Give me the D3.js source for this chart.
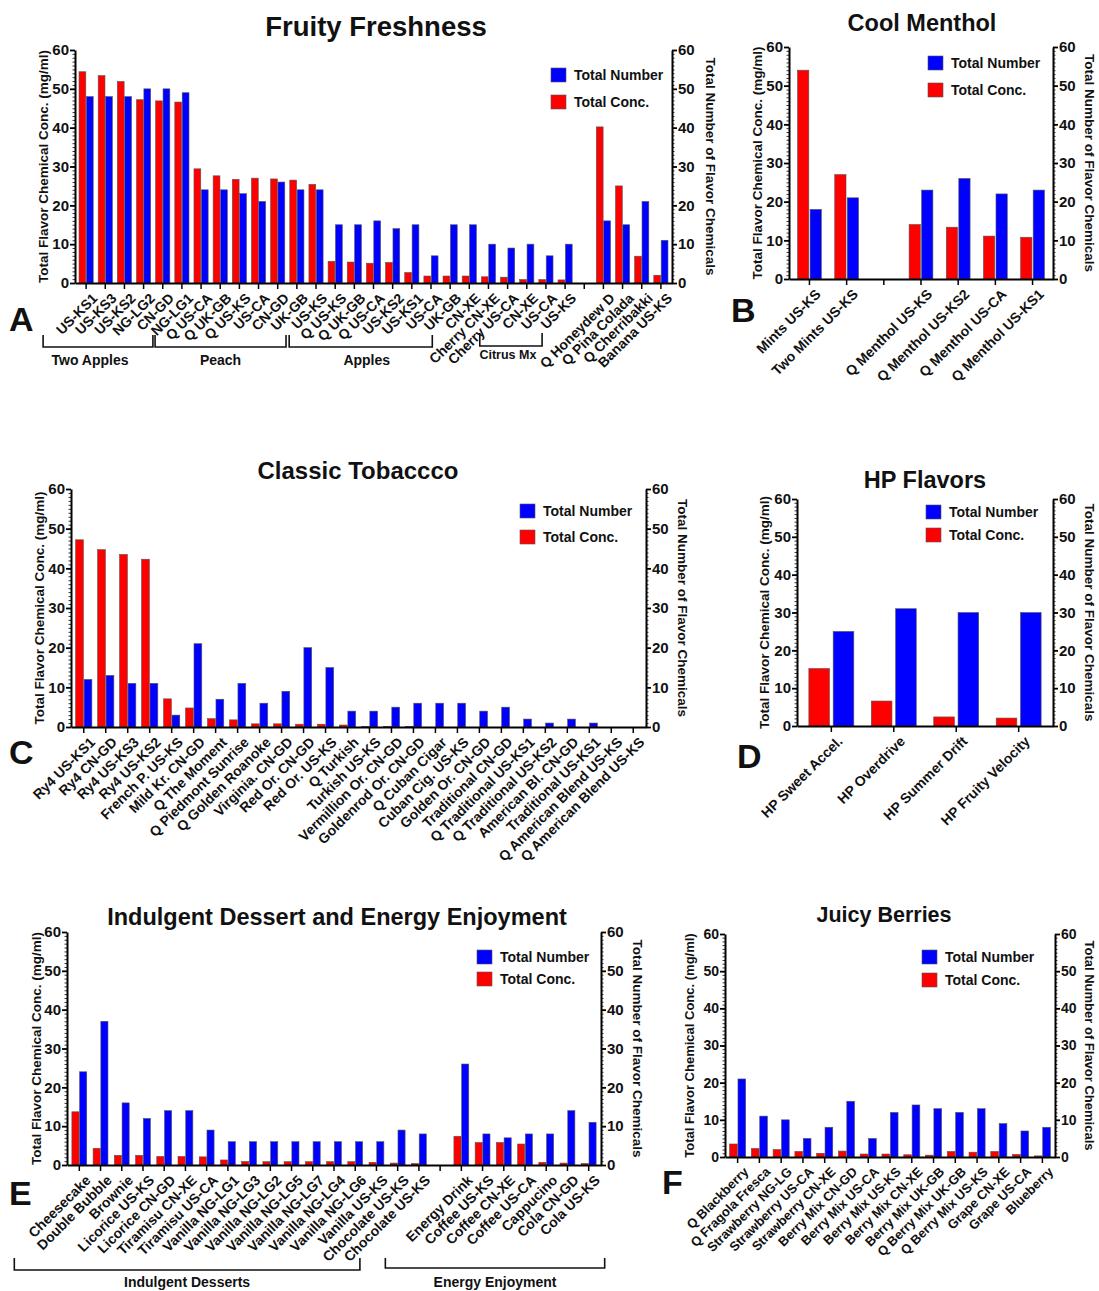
<!DOCTYPE html>
<html>
<head>
<meta charset="utf-8">
<script src="https://cdn.jsdelivr.net/npm/d3@7"></script>
<style>
  body { margin: 0; background: #fff; }
  svg text { font-family: "Liberation Sans", Arial, sans-serif; font-weight: bold; fill: #111; }
</style>
</head>
<body>
<svg id="chart" width="1099" height="1291"></svg>
<script>
// ---- data ----
// A: Fruity Freshness ('' = empty slot)
const fruityCats = ['US-KS1', 'US-KS3', 'US-KS2', 'NG-LG2', 'CN-GD', 'NG-LG1',
    'Q US-CA', 'Q UK-GB', 'Q US-KS', 'US-CA', 'CN-GD', 'UK-GB', 'US-KS',
    'Q US-KS', 'Q UK-GB', 'Q US-CA', 'US-KS2', 'US-KS1', 'US-CA', 'UK-GB', 'CN-XE',
    'Cherry CN-XE', 'Cherry US-CA', 'CN-XE', 'US-CA', 'US-KS', '',
    'Q Honeydew D', 'Q Pina Colada', 'Q Cherribakki', 'Banana US-KS'];
const fruityConc = [54.4, 53.4, 51.9, 47.2, 46.9, 46.6,
    29.4, 27.6, 26.7, 27.0, 26.8, 26.5, 25.4,
    5.6, 5.4, 5.1, 5.3, 2.7, 1.8, 1.8, 1.8, 1.6, 1.5, 0.9, 0.9, 0.8, null,
    40.2, 25.0, 6.9, 2.0];
const fruityNum = [48, 48, 48, 50, 50, 49,
    24, 24, 23, 21, 26, 24, 24,
    15, 15, 16, 14, 15, 7, 15, 15, 10, 9, 10, 7, 10, null,
    16, 15, 21, 11];
const fruityGroups = [['Two Apples', 0, 5], ['Peach', 6, 12], ['Apples', 13, 20], ['Citrus Mx', 23, 25]];

// B: Cool Menthol
const mentholCats = ['Mints US-KS', 'Two Mints US-KS', '', 'Q Menthol US-KS',
    'Q Menthol US-KS2', 'Q Menthol US-CA', 'Q Menthol US-KS1'];
const mentholConc = [54.0, 27.0, null, 14.1, 13.4, 11.1, 10.8];
const mentholNum = [18, 21, null, 23, 26, 22, 23];

// C: Classic Tobacco
const tobaccoCats = ['Ry4 US-KS1', 'Ry4 CN-GD', 'Ry4 US-KS3', 'Ry4 US-KS2', 'French P. US-KS',
    'Mild Kr. CN-GD', 'Q The Moment', 'Q Piedmont Sunrise', 'Q Golden Roanoke', 'Virginia. CN-GD',
    'Red Or. CN-GD', 'Red Or. US-KS', 'Q Turkish', 'Turkish US-KS', 'Vermillion Or. CN-GD',
    'Goldenrod Or. CN-GD', 'Q Cuban Cigar', 'Cuban Cig. US-KS', 'Golden Or. CN-GD',
    'Traditional CN-GD', 'Q Traditional US-KS1', 'Q Traditional US-KS2', 'American Bl. CN-GD',
    'Traditional US-KS1', 'Q American Blend US-KS', 'Q American Blend US-KS'];
const tobaccoConc = [47.2, 44.7, 43.5, 42.3, 7.1, 4.8, 2.1, 1.8, 0.8, 0.8, 0.7, 0.7, 0.5,
    0.15, 0.15, 0.1, 0, 0, 0, 0, 0, 0, 0, 0, 0, 0];
const tobaccoNum = [12, 13, 11, 11, 3, 21, 7, 11, 6, 9, 20, 15, 4,
    4, 5, 6, 6, 6, 4, 5, 2, 1, 2, 1, 0, 0];

// D: HP Flavors
const hpCats = ['HP Sweet Accel.', 'HP Overdrive', 'HP Summer Drift', 'HP Fruity Velocity'];
const hpConc = [15.2, 6.6, 2.4, 2.1];
const hpNum = [25, 31, 30, 30];

// E: Indulgent Dessert and Energy Enjoyment
const dessertCats = ['Cheesecake', 'Double Bubble', 'Brownie', 'Licorice US-KS', 'Licorice CN-GD',
    'Tiramisu CN-XE', 'Tiramisu US-CA', 'Vanilla NG-LG1', 'Vanilla NG-LG3', 'Vanilla NG-LG2',
    'Vanilla NG-LG5', 'Vanilla NG-LG7', 'Vanilla NG-LG4', 'Vanilla NG-LG6', 'Vanilla US-KS',
    'Chocolate US-KS', 'Chocolate US-KS', '',
    'Energy Drink', 'Coffee US-KS', 'Coffee CN-XE', 'Coffee US-CA', 'Cappucino', 'Cola CN-GD', 'Cola US-KS'];
const dessertConc = [13.7, 4.3, 2.5, 2.5, 2.2, 2.2, 2.1, 1.3, 0.9, 0.85, 0.85, 0.85, 0.85, 0.85,
    0.7, 0.5, 0.4, null, 7.4, 5.8, 5.8, 5.4, 0.7, 0.5, 0.4];
const dessertNum = [24, 37, 16, 12, 14, 14, 9, 6, 6, 6, 6, 6, 6, 6, 6, 9, 8, null,
    26, 8, 7, 8, 8, 14, 11];
const dessertGroups = [['Indulgent Desserts', 0, 16], ['Energy Enjoyment', 18, 24]];

// F: Juicy Berries
const berryCats = ['Q Blackberry', 'Q Fragola Fresca', 'Strawberry NG-LG', 'Strawberry US-CA',
    'Strawberry CN-XE', 'Berry Mix CN-GD', 'Berry Mix US-CA', 'Berry Mix US-KS', 'Berry Mix CN-XE',
    'Berry Mix UK-GB', 'Q Berry Mix UK-GB', 'Q Berry Mix US-KS', 'Grape CN-XE', 'Grape US-CA', 'Blueberry'];
const berryConc = [3.5, 2.3, 2.0, 1.5, 1.0, 1.6, 0.8, 0.8, 0.6, 0.5, 1.5, 1.3, 1.5, 0.7, 0.3];
const berryNum = [21, 11, 10, 5, 8, 15, 5, 12, 14, 13, 12, 13, 9, 7, 8];

const RED = '#ff0000';
const BLUE = '#0000ff';
const svg = d3.select('#chart');

function drawPanel(p) {
    const n = p.cats.length;
    const x = d3.scaleBand()
        .domain(d3.range(n))
        .range([p.left, p.right])
        .paddingOuter(p.outer);
    const yL = d3.scaleLinear().domain([0, 60]).range([p.bottom, p.top]);
    const yR = d3.scaleLinear().domain([0, 60]).range([p.bottom, p.top]);
    const pairW = x.bandwidth() * p.fill;
    const sub = d3.scaleBand()
        .domain(['conc', 'num'])
        .range([-pairW / 2, pairW / 2])
        .paddingInner(p.gap);

    const g = svg.append('g');
    const rows = d3.range(n)
        .filter(i => p.conc[i] !== null)
        .map(i => ({ i, conc: p.conc[i], num: p.num[i] }));

    g.selectAll('.conc')
        .data(rows.filter(d => d.conc > 0))
        .join('rect')
            .attr('x', d => x(d.i) + x.bandwidth() / 2 + sub('conc'))
            .attr('y', d => yL(d.conc))
            .attr('width', sub.bandwidth())
            .attr('height', d => yL(0) - yL(d.conc))
            .attr('fill', RED)
            .attr('stroke', '#555')
            .attr('stroke-width', 0.6);

    g.selectAll('.num')
        .data(rows.filter(d => d.num > 0))
        .join('rect')
            .attr('x', d => x(d.i) + x.bandwidth() / 2 + sub('num'))
            .attr('y', d => yR(d.num))
            .attr('width', sub.bandwidth())
            .attr('height', d => yR(0) - yR(d.num))
            .attr('fill', BLUE)
            .attr('stroke', '#555')
            .attr('stroke-width', 0.6);

    // y axes, minor + major ticks on both sides
    const minor = d3.range(0, 61, 1);
    const major = d3.range(0, 61, 10);
    [[p.left, d3.axisLeft, yL], [p.right, d3.axisRight, yR]].forEach(([pos, mk, scale]) => {
        g.append('g')
            .attr('transform', `translate(${pos},0)`)
            .call(mk(scale).tickValues(minor).tickSize(2.5).tickFormat(''))
            .call(a => a.select('.domain').remove())
            .call(a => a.selectAll('line').attr('stroke-width', 0.8));
        g.append('g')
            .attr('transform', `translate(${pos},0)`)
            .call(mk(scale).tickValues(major).tickSize(5).tickSizeOuter(0).tickPadding(1))
            .call(a => a.select('.domain').attr('stroke-width', 2))
            .call(a => a.selectAll('line').attr('stroke-width', 1.8))
            .call(a => a.selectAll('text').style('font-size', p.tickFont + 'px'));
    });

    // x axis with rotated labels
    g.append('g')
        .attr('transform', `translate(0,${p.bottom})`)
        .call(d3.axisBottom(x).tickSize(6).tickSizeOuter(0).tickFormat(i => p.cats[i]))
        .call(a => a.select('.domain').attr('stroke-width', 2))
        .call(a => a.selectAll('line').attr('stroke-width', 1.5))
        .call(a => a.selectAll('text')
            .attr('x', 0)
            .attr('y', 0)
            .attr('dy', '0.72em')
            .attr('transform', `translate(${p.labelDx},${p.labelDy}) rotate(-45)`)
            .style('text-anchor', 'end')
            .style('font-size', p.labelFont + 'px'));

    // axis titles
    const midY = (p.top + p.bottom) / 2;
    g.append('text')
        .attr('transform', `translate(${p.leftTitleX},${midY}) rotate(-90)`)
        .attr('text-anchor', 'middle')
        .style('font-size', p.axisFont + 'px')
        .text('Total Flavor Chemical Conc. (mg/ml)');
    g.append('text')
        .attr('transform', `translate(${p.rightTitleX},${midY}) rotate(90)`)
        .attr('text-anchor', 'middle')
        .style('font-size', p.axisFont + 'px')
        .text('Total Number of Flavor Chemicals');

    // title
    g.append('text')
        .attr('x', p.titleX)
        .attr('y', p.titleY)
        .attr('text-anchor', 'middle')
        .style('font-size', p.titleFont + 'px')
        .text(p.title);

    // panel letter
    g.append('text')
        .attr('x', p.letterX)
        .attr('y', p.letterY)
        .style('font-size', '34px')
        .text(p.letter);

    // legend
    const leg = g.append('g').attr('transform', `translate(${p.legendX},${p.legendY})`);
    [['Total Number', BLUE], ['Total Conc.', RED]].forEach(([name, color], k) => {
        leg.append('rect')
            .attr('x', 0)
            .attr('y', k * p.legendStep)
            .attr('width', 15)
            .attr('height', 14)
            .attr('fill', color)
            .attr('stroke', '#555')
            .attr('stroke-width', 0.6);
        leg.append('text')
            .attr('x', 23)
            .attr('y', k * p.legendStep + 12)
            .style('font-size', p.legendFont + 'px')
            .text(name);
    });

    // group brackets under the labels
    (p.groups || []).forEach(([name, a, b], k) => {
        const s = p.bracketStyle[k];
        const x0 = x(a) + x.bandwidth() / 2 + s.dx0;
        const x1 = x(b) + x.bandwidth() / 2 + s.dx1;
        g.append('path')
            .attr('d', `M${x0},${s.top}V${s.bottom}H${x1}V${s.top}`)
            .attr('fill', 'none')
            .attr('stroke', '#111')
            .attr('stroke-width', 1.6);
        g.append('text')
            .attr('x', (x0 + x1) / 2 + (s.textDx || 0))
            .attr('y', s.textY)
            .attr('text-anchor', 'middle')
            .style('font-size', s.font + 'px')
            .text(name);
    });
}

const common = { outer: 0.08, fill: 0.74, gap: 0.08, tickFont: 15, labelFont: 14,
    axisFont: 13.5, legendFont: 14, labelDx: 5, labelDy: 9 };

drawPanel({ ...common,
    cats: fruityCats, conc: fruityConc, num: fruityNum,
    left: 75, right: 672, top: 50, bottom: 283,
    title: 'Fruity Freshness', titleX: 376, titleY: 36, titleFont: 27.5,
    letter: 'A', letterX: 9, letterY: 331,
    leftTitleX: 48, rightTitleX: 706,
    legendX: 551, legendY: 68, legendStep: 27,
    groups: fruityGroups,
    bracketStyle: [
        { dx0: -43, dx1: -29, top: 335, bottom: 347, textY: 365, font: 14, textDx: -8 },
        { dx0: -46, dx1: -30, top: 335, bottom: 347, textY: 365, font: 14 },
        { dx0: -46, dx1: -37, top: 335, bottom: 347, textY: 365, font: 14, textDx: 6 },
        { dx0: -47, dx1: -23, top: 333, bottom: 346, textY: 359, font: 12.5, textDx: -3 }
    ]
});

drawPanel({ ...common, outer: 0.05, fill: 0.64, gap: 0.1,
    cats: mentholCats, conc: mentholConc, num: mentholNum,
    left: 789, right: 1053, top: 47, bottom: 279,
    title: 'Cool Menthol', titleX: 922, titleY: 31, titleFont: 23.5,
    letter: 'B', letterX: 731, letterY: 322,
    leftTitleX: 762, rightTitleX: 1085,
    legendX: 928, legendY: 56, legendStep: 27
});

drawPanel({ ...common,
    cats: tobaccoCats, conc: tobaccoConc, num: tobaccoNum,
    left: 71, right: 646, top: 489, bottom: 727,
    title: 'Classic Tobaccco', titleX: 358, titleY: 479, titleFont: 24,
    letter: 'C', letterX: 9, letterY: 764,
    leftTitleX: 44, rightTitleX: 678,
    legendX: 520, legendY: 504, legendStep: 26
});

drawPanel({ ...common, outer: 0.05, fill: 0.72, gap: 0.15,
    cats: hpCats, conc: hpConc, num: hpNum,
    left: 797, right: 1053, top: 499, bottom: 726,
    title: 'HP Flavors', titleX: 925, titleY: 488, titleFont: 23.5,
    letter: 'D', letterX: 737, letterY: 768,
    leftTitleX: 769, rightTitleX: 1085,
    legendX: 926, legendY: 505, legendStep: 23
});

drawPanel({ ...common, fill: 0.7,
    cats: dessertCats, conc: dessertConc, num: dessertNum,
    left: 67, right: 601, top: 932, bottom: 1165,
    title: 'Indulgent Dessert and Energy Enjoyment', titleX: 337, titleY: 925, titleFont: 23.5,
    letter: 'E', letterX: 9, letterY: 1205,
    leftTitleX: 41, rightTitleX: 633,
    legendX: 477, legendY: 950, legendStep: 22,
    groups: dessertGroups,
    bracketStyle: [
        { dx0: -65, dx1: -59, top: 1258, bottom: 1270, textY: 1287, font: 14 },
        { dx0: -76, dx1: 16, top: 1258, bottom: 1268, textY: 1287, font: 14 }
    ]
});

drawPanel({ ...common, labelFont: 13, axisFont: 13, tickFont: 14,
    cats: berryCats, conc: berryConc, num: berryNum,
    left: 725, right: 1055, top: 934, bottom: 1157,
    title: 'Juicy Berries', titleX: 884, titleY: 922, titleFont: 21.5,
    letter: 'F', letterX: 662, letterY: 1194,
    leftTitleX: 694, rightTitleX: 1085,
    legendX: 922, legendY: 950, legendStep: 23
});
</script>
</body>
</html>
